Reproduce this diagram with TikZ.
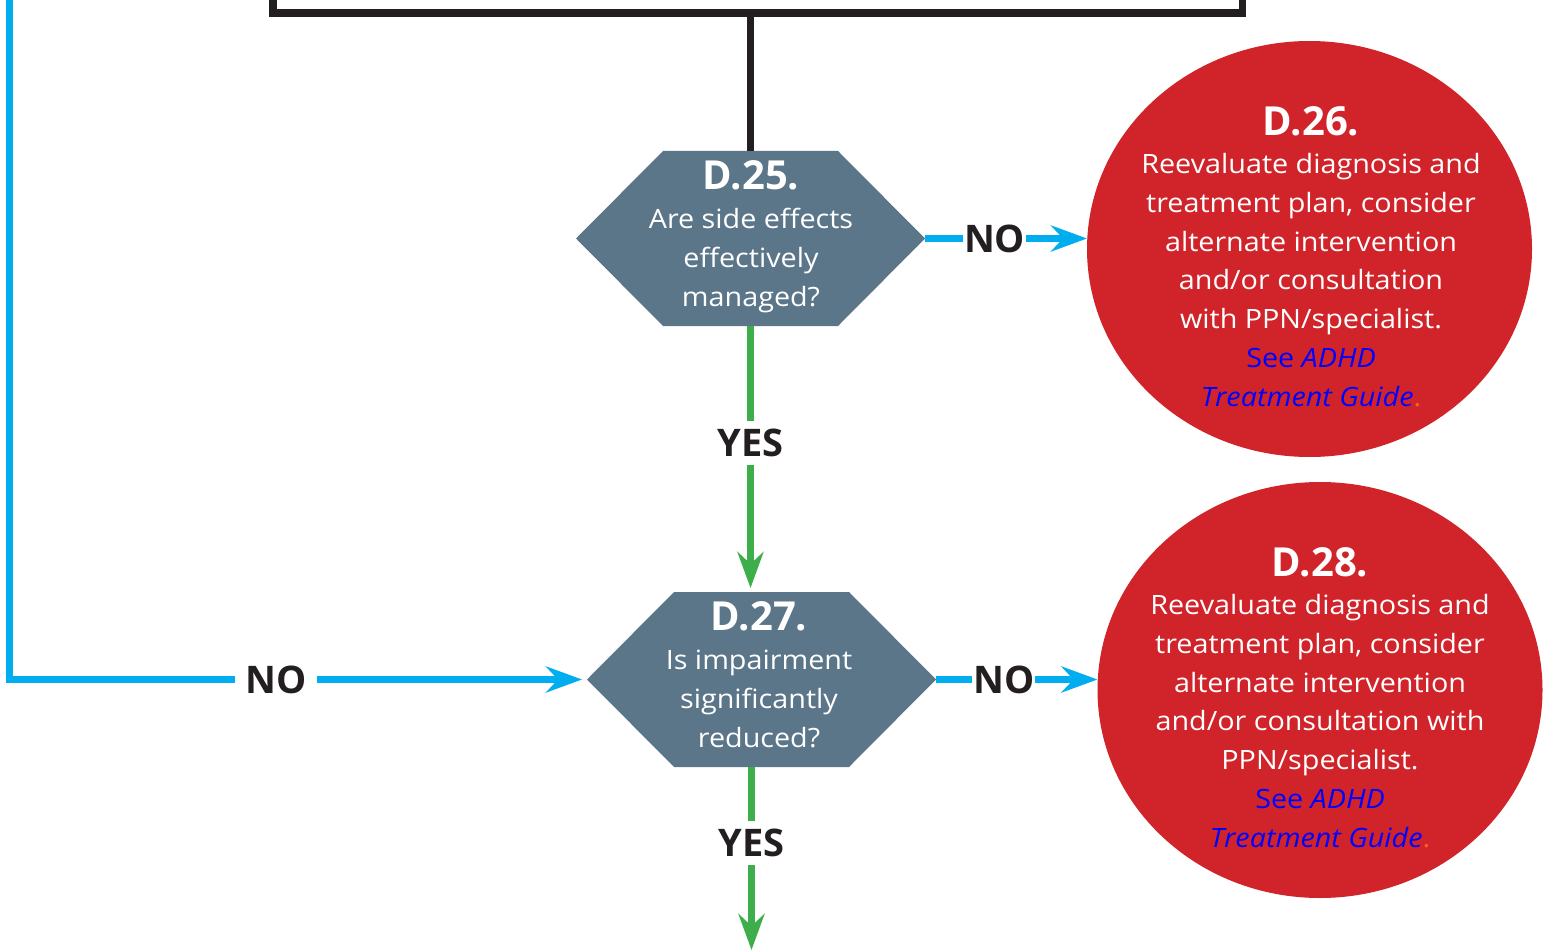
\documentclass[tikz,border=0pt]{standalone}
\usepackage{fontspec}
\setmainfont{Open Sans}
\newfontfamily\bodyfont[FakeStretch=1.08]{Open Sans}
\usetikzlibrary{arrows.meta,shapes.geometric,calc}
\definecolor{slate}{HTML}{5B7589}
\definecolor{redc}{HTML}{D1232A}
\definecolor{cyanl}{HTML}{00AEEF}
\definecolor{greenl}{HTML}{3DAE49}
\definecolor{ink}{HTML}{231F20}
\definecolor{linkblue}{HTML}{0000FF}
\definecolor{dotorange}{HTML}{F26522}
\newcommand\headfont{\normalfont\fontsize{40}{40}\selectfont\bfseries}
\begin{document}
\begin{tikzpicture}[x=1pt,y=-1pt,
  hexbox/.style={minimum width=349pt,minimum height=175pt,inner sep=0pt,outer sep=0pt},
  hexfill/.style={fill=slate},
  redball/.style={ellipse,fill=redc,inner sep=0pt,outer sep=0pt,minimum width=445pt,minimum height=416pt},
  boxtext/.style={text=white,align=center,anchor=base,inner sep=0pt,font=\bodyfont\fontsize{26.6}{38.7}\selectfont},
  tipstyle/.style={-{Stealth[length=36pt,width=26pt,inset=12pt]}},
  cyanline/.style={draw=cyanl,line width=7.7pt},
  greenline/.style={draw=greenl,line width=7pt},
  blackline/.style={draw=ink,line width=7.7pt},
  answer/.style={text=ink,fill=white,font=\fontsize{38}{38}\selectfont\bfseries,inner ysep=2pt,inner xsep=1pt},
]
\useasboundingbox (0,0) rectangle (1546,952);
\clip (0,0) rectangle (1546,952);

% top box (cut off by the frame)
\node[draw=ink,line width=7.7pt,minimum width=969.5pt,minimum height=300pt,inner sep=0pt,outer sep=0pt] (box) at (757.75,-137.2) {};

% decision hexagons
\node[hexbox] (d25) at (750.5,238.5) {};
\node[hexbox] (d27) at (761.5,679.5) {};
\fill[hexfill] (d25.west) -- ([xshift=87pt]d25.north west) -- ([xshift=-87pt]d25.north east) -- (d25.east)
  -- ([xshift=-87pt]d25.south east) -- ([xshift=87pt]d25.south west) -- cycle;
\fill[hexfill] (d27.west) -- ([xshift=87pt]d27.north west) -- ([xshift=-87pt]d27.north east) -- (d27.east)
  -- ([xshift=-87pt]d27.south east) -- ([xshift=87pt]d27.south west) -- cycle;

% red outcome circles
\node[redball] (d26) at (1309.5,249) {};
\node[redball] (d28) at (1320,690) {};

% texts (anchored at the baseline of their last line)
\node[boxtext] (d25t) at (751,306) {{\headfont D.25.}\\Are side effects\\effectively\\managed?};
\node[boxtext] (d27t) at (759,747) {{\headfont D.27.}\\Is impairment\\significantly\\reduced?};
\node[boxtext] (d26t) at (1311,406) {{\headfont D.26.}\\Reevaluate diagnosis and\\treatment plan, consider\\alternate intervention\\and/or consultation\\with PPN/specialist.\\\textcolor{linkblue}{See \textit{ADHD}}\\\textcolor{linkblue}{\textit{Treatment Guide}}\textcolor{dotorange}{.}};
\node[boxtext] (d28t) at (1320,847) {{\headfont D.28.}\\Reevaluate diagnosis and\\treatment plan, consider\\alternate intervention\\and/or consultation with\\PPN/specialist.\\\textcolor{linkblue}{See \textit{ADHD}}\\\textcolor{linkblue}{\textit{Treatment Guide}}\textcolor{dotorange}{.}};

% connectors
\coordinate (loopstart) at (9.5,-20);
\coordinate (exitpt) at (751.5,950);
\draw[blackline] (box.south -| d25.north) -- (d25.north);
\draw[greenline,tipstyle,shorten >=4pt] (d25.south) -- node[answer,pos=0.44,inner ysep=8pt] (yes1) {YES} (d25.south |- d27.north);
\draw[greenline,tipstyle] (d27.south -| exitpt) -- node[answer,pos=0.415,inner ysep=8pt] (yes2) {YES} (exitpt);
\draw[cyanline,tipstyle] (d25.east) -- node[answer,pos=0.43] (no1) {NO} (d25.east -| d26.west);
\draw[cyanline,tipstyle] (d27.east) -- node[answer,pos=0.42] (no2) {NO} (d27.east -| d28.west);
\draw[cyanline,tipstyle,shorten >=5pt] (loopstart) |- (d27.west);
\node[answer,inner xsep=10pt] (no3) at (276,679.5) {NO};
\end{tikzpicture}
\end{document}
